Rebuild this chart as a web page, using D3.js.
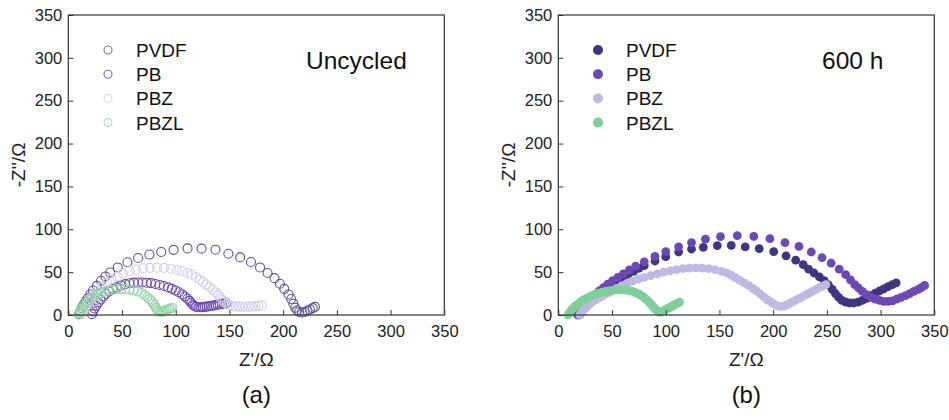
<!DOCTYPE html>
<html><head><meta charset="utf-8">
<script src="https://cdn.jsdelivr.net/npm/d3@7/dist/d3.min.js"></script>
<style>
html,body{margin:0;padding:0;background:#fff;}
svg{display:block;font-family:"Liberation Sans",Arial,Helvetica,sans-serif;}
</style></head>
<body><svg id="chart" width="949" height="420"></svg>
<script>
// ---------- data ----------
const seriesNames = ["PVDF", "PB", "PBZ", "PBZL"];
const axisTicks = [0, 50, 100, 150, 200, 250, 300, 350];
const panelLabels = ["(a)", "(b)"];
const panelTitles = ["Uncycled", "600 h"];

// Panel (a) uncycled: [Z', -Z'']
const uncycledPVDF = [[10,1],[11,4],[12.5,8],[14,11.5],[16,15.5],[18,19.5],[20.5,24],[23,28.5],[26.5,34],[30.5,40],[34.5,45],[39,49.5],[46,55.5],[55,61.5],[65,66.5],[75.5,70.5],[86.5,73.5],[98,76],[111,77.7],[124,77.4],[137,76.2],[149,71.5],[160,67.2],[170,61.8],[178.5,55.5],[185.5,49],[192,43],[197,36.5],[201,30.5],[205,24],[207.5,18.7],[209.5,13.2],[211.3,8.5],[213,5.5],[215,3.5],[217.5,3],[220,3.5],[222.5,5],[225,6.5],[227.5,8],[229.6,9.5]];
const uncycledPB = [[22,1],[23,4],[24.5,7.5],[26,11],[28,14.5],[30,18],[32.5,21.5],[35,24.5],[38,27.5],[41.5,30.5],[45,32.5],[49,34.5],[53,36],[57,37],[61,37.8],[65,38],[69,38],[73,37.7],[77,37.2],[81,36.2],[85,35],[89,33.8],[93,32.2],[96.5,30.5],[100,28.5],[103,26.5],[106,24],[108.5,21.5],[111,19],[113,16.5],[114.5,14],[116,12],[117.5,10.5],[119,9.5],[121,9],[123,9],[125,9.2],[127,9.5],[129,9.8],[131,10.2],[133,10.6],[135,11],[137,11.5],[139,12],[141,12.5],[143,13],[145,13.5],[147,14]];
const uncycledPBZ = [[13,1],[14,4],[15.5,7.5],[17,11],[19,14.5],[21.5,18.5],[24.5,23.5],[28,28.5],[32,33],[36,37.5],[40.5,41.5],[45.5,45],[51,48.5],[57,51],[63,53],[69.5,54.5],[76,55],[82.5,55.2],[89,55],[95.5,54],[101,52.5],[106,51],[111,49],[115,47],[119,44],[122.5,41.2],[125.5,38.5],[128.5,35.5],[131.5,32.5],[134.5,29.5],[137,26.5],[139.5,23.5],[141.5,20.5],[143.5,17.8],[145.5,15],[147.5,13],[150,11.5],[153,10.5],[156,10],[159,9.8],[162,9.7],[165,9.7],[168,9.8],[171,10],[174,10.3],[177,10.7],[180,11.2]];
const uncycledPBZL = [[10,0.5],[10.5,2.5],[11.5,5],[12.5,7.5],[14,10],[15.5,12.5],[17.5,15],[19.5,17.5],[22,20],[24.5,22],[27.5,24],[30.5,25.8],[34,27.3],[37.5,28.5],[41,29.5],[45,30.2],[49,30.5],[53,30.3],[57,29.8],[61,28.8],[64.5,27.5],[68,25.7],[71,23.5],[73.5,21],[75.5,18.5],[77.5,16],[79,13.5],[80.5,11],[81.5,8.5],[82.5,6.5],[83.5,5],[85,4],[86.5,3.8],[88,4.2],[89.5,5],[91,5.8],[92.5,6.5],[94,7.2],[95.5,7.8],[97,8.4]];

// Panel (b) after 600 h: [Z', -Z'']
const cycledPVDF = [[20,0],[22,4],[24.5,8],[27,11.5],[30,15],[33,19],[36.5,22.5],[40,26],[45,31],[50,35.5],[55,40],[60,44],[65,47.5],[70,51],[75,54.5],[80,57.5],[90,63],[100,68],[112,73.5],[124,77],[135,79],[148,81],[161,81.2],[174,79.5],[187,77.5],[200.5,74],[212,69],[221,64],[228,58.7],[233,53.5],[238,49],[243,44.5],[247.5,40],[251.5,35],[255,30],[258,25],[261,20.5],[264,17],[267.5,15],[271,14],[275,14],[279,15],[283,17],[287,19.5],[291,22.5],[295,25.5],[299,28],[303,30.5],[307,33],[311,35.5],[314.5,37.5]];
const cycledPB = [[18,0],[20,4],[22.5,8],[25,12],[28,16],[31,20],[34.5,24],[38,28],[42,32],[46,36],[50.5,40],[55.5,44],[60.5,48],[66,52.5],[72,57],[80,62],[90,68.5],[100,74],[112,79.5],[124,84.5],[137,88.5],[151,91.5],[166.6,92.7],[182,91.7],[197,89],[211,84.5],[224,80],[235.5,73.5],[245.5,67],[254,60.5],[261.5,53.5],[267.5,47],[272,41],[276,35.5],[279.5,31.5],[283,27.5],[287,23.7],[291,20.5],[295,18.5],[299,17],[303,16],[307,16],[311,16.5],[315,18.5],[319,20.5],[323,22.5],[327,25],[331,27.5],[335,30],[338,32],[341,34.5]];
const cycledPBZ = [[20,0],[21.5,3],[23.5,6],[26,9],[28.5,12],[31.5,15],[35,18],[38.5,20.5],[42,23],[46,25.5],[50,28],[54.5,31],[59,34],[64,37],[69,39.5],[74.5,42],[80,44],[86,46],[92,48],[98,50],[104,51.5],[110,53],[116,54],[122,54.8],[128,55],[134,54.8],[140,54.2],[146,53],[152,51],[157,49],[161,46.5],[165,43.5],[169,40.5],[173,37.5],[177,34.5],[181,31],[184.5,28],[188,24.5],[191.5,21],[194.5,18],[197.5,15.5],[200.5,13],[203.5,11],[206.5,10],[209.5,10],[212.5,11.5],[215.5,13.5],[218.5,15.5],[221.5,17.5],[224.5,19.5],[227.5,21.5],[230.5,23.5],[233.5,25.5],[236.5,27.5],[239.5,29.5],[242.5,31.5],[245.5,33.5],[249,35.5]];
const cycledPBZL = [[9,0],[10,2],[11,4],[12.5,6],[14,8],[15.5,10],[17.5,12],[19.5,14],[21.5,16],[24,18],[26.5,19.8],[29,21.3],[32,22.8],[35,24.2],[38,25.5],[41,26.6],[44,27.5],[47,28.2],[50,28.8],[53,29.2],[56,29.4],[59,29.4],[62,29.2],[65,28.6],[68,27.8],[71,26.6],[73.5,25.2],[76,23.6],[78.5,21.8],[80.5,19.8],[82.5,17.6],[84.5,15.3],[86,13],[87.5,10.8],[89,8.6],[90.5,6.6],[92,4.8],[93.5,3.6],[95,3.2],[96.5,4],[98,5],[99.5,6],[101,7],[102.5,8],[104,9],[105.5,10],[107,11],[108.5,12],[110,13],[111.5,14],[113,15]];

// ---------- styles ----------
const openColors   = ["#5a5292", "#6b47ad", "#d2cce9", "#93d4a6"];
const openLegend   = ["#7c75aa", "#7d68b7", "#dcd7ee", "#a9dbb7"];
const filledColors = ["#3f3680", "#6e48b3", "#c0b9e2", "#7ecf9a"];

const panels = [
  {x0: 68.3, series: [uncycledPVDF, uncycledPB, uncycledPBZ, uncycledPBZL], filled: false,
   legendX: 108, textX: 136, titleX: 306},
  {x0: 558.3, series: [cycledPVDF, cycledPB, cycledPBZ, cycledPBZL], filled: true,
   legendX: 598, textX: 626, titleX: 822}
];
const plotW = 376, plotTop = 15, plotBottom = 315;

const svg = d3.select("#chart");

panels.forEach((p, pi) => {
  const x = d3.scaleLinear().domain([0, 350]).range([p.x0, p.x0 + plotW]);
  const y = d3.scaleLinear().domain([0, 350]).range([plotBottom, plotTop]);
  const g = svg.append("g");

  // data points
  p.series.forEach((data, si) => {
    const sg = g.append("g");
    sg.selectAll("circle").data(data).enter().append("circle")
      .attr("cx", d => x(d[0]))
      .attr("cy", d => y(d[1]))
      .attr("r", p.filled ? 4.4 : 4.5)
      .attr("fill", p.filled ? filledColors[si] : "none")
      .attr("stroke", p.filled ? "none" : openColors[si])
      .attr("stroke-width", p.filled ? 0 : 1.1);
  });

  // axes
  const xa = g.append("g").attr("transform", `translate(0,${plotBottom})`)
    .call(d3.axisBottom(x).tickValues(axisTicks).tickSizeInner(-5).tickSizeOuter(0).tickPadding(10));
  const ya = g.append("g").attr("transform", `translate(${p.x0},0)`)
    .call(d3.axisLeft(y).tickValues(axisTicks).tickSizeInner(-5).tickSizeOuter(0).tickPadding(6));
  [xa, ya].forEach(a => {
    a.select(".domain").remove();
    a.selectAll("line").attr("stroke", "#333").attr("stroke-width", 1);
    a.selectAll("text").attr("font-size", 16.5).attr("fill", "#222")
      .attr("font-family", '"Liberation Sans",Arial,sans-serif');
  });

  // frame
  g.append("rect").attr("x", p.x0).attr("y", plotTop)
    .attr("width", plotW).attr("height", plotBottom - plotTop)
    .attr("fill", "none").attr("stroke", "#333").attr("stroke-width", 1.2);

  // axis titles
  const cx = p.x0 + plotW / 2;
  g.append("text").attr("x", cx).attr("y", 366).attr("text-anchor", "middle")
    .attr("font-size", 19).attr("fill", "#222").text("Z'/Ω");
  g.append("text").attr("transform", `translate(${p.x0 - 43},${(plotTop + plotBottom) / 2}) rotate(-90)`)
    .attr("text-anchor", "middle").attr("font-size", 19).attr("fill", "#222").text("-Z''/Ω");

  // panel label
  g.append("text").attr("x", cx).attr("y", 403).attr("text-anchor", "middle")
    .attr("font-size", 24).attr("fill", "#111").text(panelLabels[pi]);

  // title
  g.append("text").attr("x", p.titleX).attr("y", 69)
    .attr("font-size", 24.5).attr("fill", "#111").text(panelTitles[pi]);

  // legend
  seriesNames.forEach((name, si) => {
    const ly = 50 + si * 24.2;
    g.append("circle").attr("cx", p.legendX).attr("cy", ly)
      .attr("r", p.filled ? 5 : 4)
      .attr("fill", p.filled ? filledColors[si] : "none")
      .attr("stroke", p.filled ? "none" : openLegend[si])
      .attr("stroke-width", 1.1);
    g.append("text").attr("x", p.textX).attr("y", ly + 7)
      .attr("font-size", 19).attr("fill", "#111").text(name);
  });
});
</script>
</body></html>
